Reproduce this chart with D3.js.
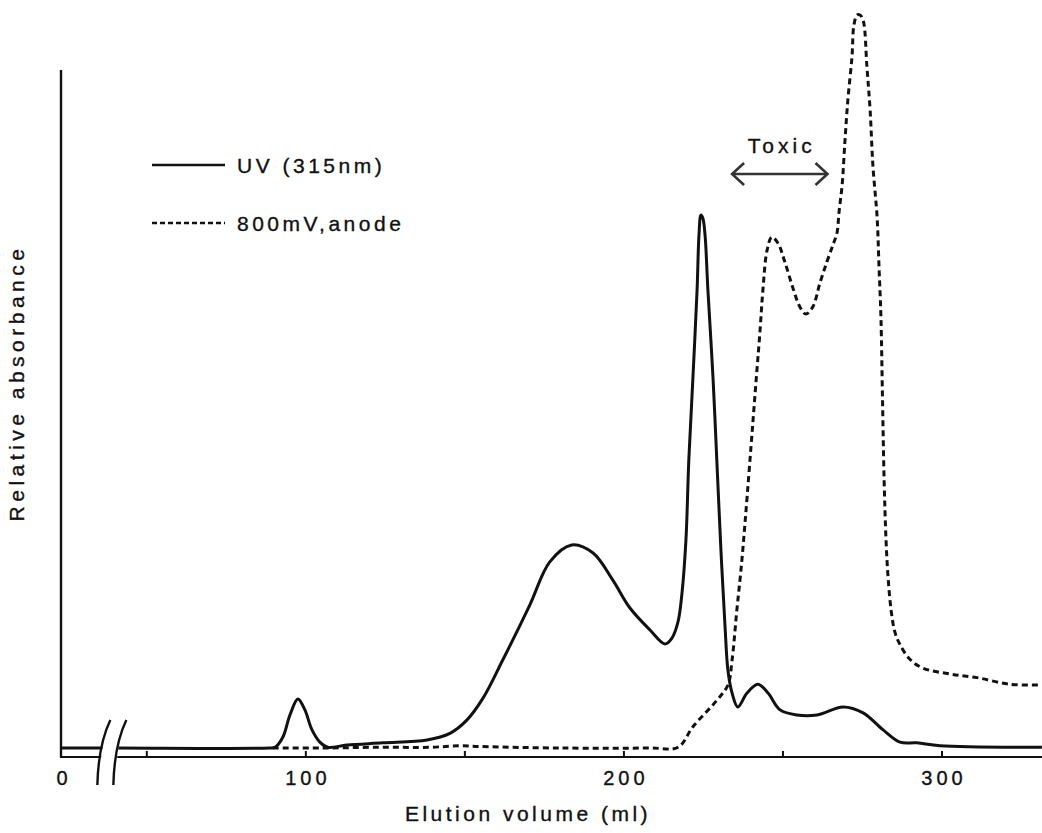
<!DOCTYPE html>
<html>
<head>
<meta charset="utf-8">
<script src="https://cdn.jsdelivr.net/npm/d3@7"></script>
<style>
  html, body { margin: 0; padding: 0; background: #fff; }
  svg { display: block; }
  text { font-family: "Liberation Sans", Arial, Helvetica, sans-serif; fill: #111; stroke: #111; stroke-width: 0.35px; }
</style>
</head>
<body>
<svg id="chart" width="1042" height="833"></svg>
<script>
// Elution volume (ml) and relative absorbance of the UV (315 nm) trace
const uvVolume = [0, 40, 88.5, 90.3, 92.8, 95.0, 97.5, 99.7, 101.9, 104.4, 106.9, 112.9, 124.2, 138.1,
  145.3, 150.6, 155.7, 161.9, 170.4, 176.7, 183.6, 190.3, 196.5, 201.9, 208.2, 212.9, 215.1, 217.0,
  218.2, 219.5, 220.4, 221.7, 223.0, 223.6, 224.2, 224.8, 225.5, 226.4, 228.0, 229.2, 230.5, 231.8,
  232.7, 234.0, 235.8, 238.7, 242.1, 245.3, 249.1, 254.4, 260.7, 268.9, 275.2, 281.4, 286.8, 292.1,
  299.4, 331.4];
const uvAbs = [0, 0, 0, 0.1, 1.5, 4.5, 6.7, 5.2, 2.5, 0.8, 0.1, 0.4, 0.7, 1.1,
  2.0, 3.8, 6.8, 12.0, 19.5, 25.4, 27.7, 26.6, 22.9, 19.1, 16.1, 14.2, 15.0, 17.2,
  20.9, 28.4, 39.3, 50.6, 62.5, 70.0, 72.7, 72.3, 70.0, 62.5, 50.6, 39.3, 27.0, 16.5,
  10.6, 7.5, 5.6, 7.5, 8.7, 7.5, 5.2, 4.5, 4.5, 5.6, 4.8, 2.5, 0.8, 0.7,
  0.3, 0.1];

// Electrochemical detector trace (800 mV, anode)
const anodeVolume = [89.6, 104.4, 123.3, 139.0, 148.4, 154.7, 179.9, 208.2, 217.0, 221.7, 229.2,
  232.7, 234.0, 235.5, 237.1, 241.5, 242.8, 243.7, 245.0, 246.5, 248.4, 250.6, 253.1, 255.3, 257.2,
  259.4, 261.6, 263.8, 265.7, 267.0, 267.6, 268.6, 269.5, 270.4, 271.7, 272.3, 273.3, 274.2, 275.2,
  276.4, 277.4, 278.3, 279.6, 280.2, 280.8, 281.3, 281.8, 282.4, 283.0, 284.0, 285.2, 286.8, 289.9,
  294.0, 302.5, 311.0, 321.4, 331.4];
const anodeAbs = [0, 0, 0.1, 0.1, 0.3, 0.2, 0, 0, 0.1, 2.9, 6.5,
  8.6, 12.0, 18.8, 25.7, 49.8, 57.0, 62.5, 67.9, 69.7, 68.9, 66.3, 62.8, 60.2, 59.2,
  60.2, 63.4, 66.3, 68.6, 70.3, 73.0, 76.8, 82.9, 88.4, 94.3, 98.6, 100, 100, 99.3,
  92.9, 87.0, 79.3, 72.4, 65.6, 58.8, 47.5, 36.6, 28.4, 23.6, 18.8, 15.8, 14.1, 12.1,
  10.9, 10.1, 9.6, 8.7, 8.6];

const tickValues = [50, 100, 150, 200, 250, 300];
const tickLabels = [{ v: 0, t: "0" }, { v: 100, t: "100" }, { v: 200, t: "200" }, { v: 300, t: "300" }];
const toxicRange = [234, 264];
const axisBreakAt = 38;

const svg = d3.select("#chart");
const ink = "#111";

// Broken axis: the 0–40 ml stretch is compressed before the break
const x = d3.scaleLinear().domain([0, 40, 300]).range([62, 115, 942]);
const y = d3.scaleLinear().domain([0, 100]).range([748, 15]);

const axisY = y(0) + 9;
const plotLeft = x(0);
const plotRight = 1042;

// Axes
svg.append("line").attr("x1", plotLeft - 1).attr("x2", plotLeft - 1)
  .attr("y1", 70).attr("y2", axisY)
  .attr("stroke", ink).attr("stroke-width", 2.4);
svg.append("line").attr("x1", plotLeft - 2).attr("x2", plotRight)
  .attr("y1", axisY).attr("y2", axisY)
  .attr("stroke", ink).attr("stroke-width", 2.2);

// Tick marks, pointing up from the axis
svg.selectAll(".tick").data(tickValues).join("line")
  .attr("class", "tick")
  .attr("x1", d => x(d)).attr("x2", d => x(d))
  .attr("y1", axisY).attr("y2", axisY - 6)
  .attr("stroke", ink).attr("stroke-width", 2);

svg.selectAll(".ticklabel").data(tickLabels).join("text")
  .attr("class", "ticklabel")
  .attr("x", d => x(d.v) + 2)
  .attr("y", 785)
  .attr("text-anchor", "middle")
  .style("font-size", "20px")
  .style("letter-spacing", "4px")
  .text(d => d.t);

// Traces
const line = d3.line()
  .x(d => x(d[0]))
  .y(d => y(d[1]))
  .curve(d3.curveCatmullRom.alpha(0.5));

const uvData = d3.zip(uvVolume, uvAbs);
const anodeData = d3.zip(anodeVolume, anodeAbs);

svg.append("path").datum(anodeData)
  .attr("d", line)
  .attr("fill", "none").attr("stroke", ink)
  .attr("stroke-width", 3)
  .attr("stroke-dasharray", "6,4");

svg.append("path").datum(uvData)
  .attr("d", line)
  .attr("fill", "none").attr("stroke", ink)
  .attr("stroke-width", 3)
  .attr("stroke-linejoin", "round");

// Axis break marks
const bx = x(axisBreakAt);
svg.append("polygon")
  .attr("points", `${bx - 6},720 ${bx + 10},720 ${bx + 1},785 ${bx - 15},785`)
  .attr("fill", "#fff");
[-8, 8].forEach(off => {
  const cx = bx + off;
  svg.append("path")
    .attr("d", `M${cx + 6},720 Q${cx - 6},745 ${cx - 7},785`)
    .attr("fill", "none").attr("stroke", ink).attr("stroke-width", 2.4);
});

// Legend
const legend = [
  { label: "UV (315nm)", dash: null, y: 165 },
  { label: "800mV,anode", dash: "5,3", y: 223 }
];
legend.forEach(d => {
  svg.append("line")
    .attr("x1", 152).attr("x2", 225).attr("y1", d.y).attr("y2", d.y)
    .attr("stroke", ink).attr("stroke-width", d.dash ? 2.4 : 2.4)
    .attr("stroke-dasharray", d.dash);
  svg.append("text")
    .attr("x", 237).attr("y", d.y + 8)
    .style("font-size", "21px")
    .style("letter-spacing", "3.5px")
    .text(d.label);
});

// Toxic fraction marker
const ty = 174;
const tx0 = x(toxicRange[0]), tx1 = x(toxicRange[1]);
svg.append("line").attr("x1", tx0).attr("x2", tx1).attr("y1", ty).attr("y2", ty)
  .attr("stroke", "#333").attr("stroke-width", 2.6);
svg.append("path")
  .attr("d", `M${tx0 + 12},${ty - 11} L${tx0},${ty} L${tx0 + 12},${ty + 11}` +
             `M${tx1 - 12},${ty - 11} L${tx1},${ty} L${tx1 - 12},${ty + 11}`)
  .attr("fill", "none").attr("stroke", "#333").attr("stroke-width", 2.6);
svg.append("text")
  .attr("x", (tx0 + tx1) / 2 + 2).attr("y", 153)
  .attr("text-anchor", "middle")
  .style("font-size", "21px")
  .style("letter-spacing", "4px")
  .text("Toxic");

// Axis titles
svg.append("text")
  .attr("x", 528).attr("y", 821)
  .attr("text-anchor", "middle")
  .style("font-size", "21px")
  .style("letter-spacing", "3.5px")
  .text("Elution volume (ml)");

svg.append("text")
  .attr("transform", "translate(24,383) rotate(-90)")
  .attr("text-anchor", "middle")
  .style("font-size", "21px")
  .style("letter-spacing", "4.5px")
  .text("Relative absorbance");
</script>
</body>
</html>
